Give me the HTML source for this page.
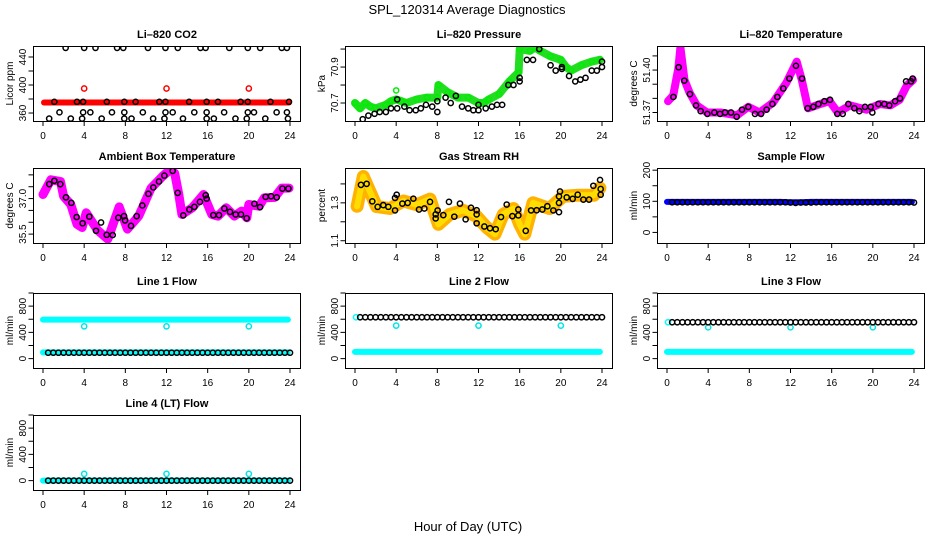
<!DOCTYPE html>
<html><head><meta charset="utf-8"><style>
html,body{margin:0;padding:0;background:#fff;}
svg{display:block;font-family:"Liberation Sans",sans-serif;}
</style></head><body>
<svg id="fig" width="936" height="540" viewBox="0 0 936 540" xmlns="http://www.w3.org/2000/svg">
<rect x="0" y="0" width="936" height="540" fill="#fff"/>
<text x="467" y="14" font-size="13" text-anchor="middle">SPL_120314  Average Diagnostics</text>
<text x="468" y="531" font-size="13" text-anchor="middle">Hour of Day (UTC)</text>
</svg>
<script>
// ---- shared ticks ----
const xTicks = [0,4,8,12,16,20,24];
const hourly = [0,1,2,3,4,5,6,7,8,9,10,11,12,13,14,15,16,17,18,19,20,21,22,23,24];
const halfHours = [0.5,1,1.5,2,2.5,3,3.5,4,4.5,5,5.5,6,6.5,7,7.5,8,8.5,9,9.5,10,10.5,11,11.5,12,12.5,13,13.5,14,14.5,15,15.5,16,16.5,17,17.5,18,18.5,19,19.5,20,20.5,21,21.5,22,22.5,23,23.5,24];
const outlierHours = [4,12,20];

// ---- CO2 ----
const co2BandValues = [375,375,375,375,375,375,375,375,375,375,375,375,375,375,375,375,375,375,375,375,375,375,375,375,375];
const co2OutlierValues = [395,395,395];
const co2TopHours = [2.2,4.0,5.1,7.2,7.8,10.2,11.9,13.1,15.3,15.8,18.1,19.9,21.1,23.2,23.7];
const co2TopValues = [453,453,453,453,453,453,453,453,453,453,453,453,453,453,453];
const co2MidHours = [1.1,3.3,3.9,6.2,7.9,9.0,11.3,11.9,14.2,15.9,17.0,19.2,19.9,22.1,23.9];
const co2MidValues = [376,376,376,376,376,376,376,376,376,376,376,376,376,376,376];
const co2LowHours = [1.6,3.9,4.6,6.7,7.9,9.7,11.9,12.6,14.7,15.9,17.6,19.9,20.5,22.7,23.7];
const co2LowValues = [361,361,361,361,361,361,361,361,361,361,361,361,361,361,361];
const co2BotHours = [0.6,2.7,3.8,5.7,7.9,8.6,10.7,11.8,13.6,15.9,16.6,18.7,19.8,21.6,23.8];
const co2BotValues = [352,352,352,352,352,352,352,352,352,352,352,352,352,352,352];

// ---- Pressure ----
const presBandHours = [0,0.5,1,1.5,2,3,3.5,4,4.5,5,6,7,8,8.1,9,10,11,12,12.5,13,14,15,15.9,16,17,17.5,18,19,20,20.5,21,22,23,23.8];
const presBandValues = [70.70,70.67,70.70,70.68,70.67,70.69,70.71,70.72,70.71,70.70,70.72,70.73,70.73,70.80,70.76,70.73,70.73,70.70,70.70,70.72,70.75,70.82,70.87,71.00,70.99,71.01,70.99,70.96,70.94,70.90,70.88,70.91,70.93,70.94];
const presOutlierHours = [4.0];
const presOutlierValues = [70.77];
const presPtHours = [0.75,1.3,1.9,2.4,3.0,3.5,4.1,4.1,4.8,5.3,5.9,6.4,6.9,7.5,8.0,8.0,8.8,9.3,9.8,10.4,11.0,11.5,12.0,12.0,12.7,13.3,13.8,14.3,14.9,15.4,16.0,16.0,16.7,17.3,17.9,19.0,19.5,20.1,20.1,20.8,21.4,21.9,22.4,23.0,23.5,24.0,24.0];
const presPtValues = [70.61,70.63,70.64,70.65,70.65,70.67,70.67,70.72,70.68,70.66,70.66,70.67,70.69,70.68,70.71,70.65,70.73,70.70,70.74,70.68,70.67,70.66,70.66,70.69,70.67,70.68,70.69,70.69,70.80,70.80,70.84,70.82,70.94,70.94,71.00,70.91,70.88,70.90,70.89,70.85,70.82,70.83,70.84,70.88,70.88,70.90,70.93];

// ---- Li-820 Temperature ----
const tempBandHours = [0.1,0.6,1.1,1.3,1.7,2.2,2.9,3.9,5.2,6.8,7.9,9.0,10.3,11.6,12.6,13.1,13.7,14.9,15.8,16.6,17.8,19.4,20.7,21.7,22.6,23.3,23.9];
const tempBandValues = [51.378,51.382,51.401,51.416,51.393,51.384,51.375,51.370,51.370,51.368,51.374,51.370,51.377,51.391,51.406,51.393,51.373,51.376,51.378,51.370,51.375,51.372,51.376,51.375,51.379,51.389,51.393];
const tempPtHours = [0.62,1.13,1.68,2.23,2.82,3.27,3.92,4.6,5.15,5.64,6.22,6.77,7.29,7.9,8.55,9.14,9.68,10.24,10.72,11.3,11.89,12.53,13.12,13.67,14.22,14.71,15.29,15.84,16.55,17.07,17.62,18.2,18.69,19.24,19.79,19.95,20.54,21.12,21.6,22.16,22.64,23.23,23.71,23.87];
const tempPtValues = [51.381,51.402,51.3925,51.383,51.375,51.371,51.369,51.370,51.369,51.370,51.370,51.367,51.372,51.374,51.369,51.369,51.372,51.376,51.381,51.387,51.394,51.403,51.394,51.373,51.374,51.376,51.378,51.379,51.369,51.369,51.376,51.373,51.371,51.374,51.374,51.370,51.376,51.376,51.375,51.378,51.380,51.392,51.392,51.394];

// ---- Ambient Box Temperature ----
const ambBandHours = [0.0,0.77,1.7,2.0,2.7,3.3,3.8,4.2,5.3,6.3,7.4,8.2,9.3,10.5,11.6,12.3,12.8,13.2,13.5,14.5,15.6,16.4,17.0,17.8,18.6,19.3,19.8,20.0,21.0,21.5,22.5,23.2,23.9];
const ambBandValues = [37.17,37.79,37.72,37.10,36.75,35.92,35.78,36.40,35.67,35.29,36.65,35.71,36.26,37.44,37.93,38.21,38.07,37.17,36.33,36.61,37.17,36.33,36.26,36.61,36.26,36.47,36.19,36.75,36.68,37.03,37.05,37.44,37.44];
const ambPtHours = [0.61,1.1,1.68,2.23,2.75,3.27,3.85,4.5,5.15,5.64,6.19,6.77,7.32,7.87,7.97,8.55,9.1,9.65,10.24,10.72,11.27,11.79,12.6,13.09,13.63,14.22,14.71,15.25,15.81,15.9,16.55,17.1,17.62,18.17,18.72,19.24,19.79,20.54,21.09,21.63,22.16,22.71,23.26,23.84];
const ambPtValues = [37.61,37.75,37.61,37.05,36.82,36.22,35.96,36.24,35.64,35.99,35.47,35.46,36.19,36.26,36.08,35.85,36.26,36.71,37.20,37.47,37.72,37.97,38.17,37.24,36.29,36.54,36.65,36.86,37.14,37.00,36.30,36.30,36.58,36.44,36.33,36.33,36.17,36.78,36.64,37.07,37.10,37.05,37.42,37.42];

// ---- Gas Stream RH ----
const rhBandHours = [0.2,0.81,1.45,2.1,3.4,4.7,6.0,7.3,8.1,9.2,10.5,11.8,12.8,13.6,14.4,15.4,16.0,16.5,17.3,18.9,20.2,21.5,23.2,23.8];
const rhBandValues = [1.282,1.439,1.36,1.28,1.27,1.31,1.29,1.32,1.187,1.239,1.26,1.23,1.17,1.135,1.239,1.27,1.187,1.135,1.30,1.27,1.334,1.34,1.34,1.378];
const rhPtHours = [0.58,1.13,1.68,2.2,2.75,3.24,3.89,3.89,4.05,4.6,5.12,5.67,6.22,6.74,7.29,7.84,7.84,8.03,8.58,9.13,9.65,10.2,10.75,11.27,11.82,11.82,11.82,12.57,13.12,13.67,14.19,14.74,15.29,15.87,15.87,16.59,17.11,17.65,18.2,18.69,19.27,19.82,19.82,19.82,19.92,20.57,21.15,21.64,22.19,22.74,23.16,23.81,23.87,23.87];
const rhPtValues = [1.395,1.40,1.308,1.279,1.288,1.279,1.26,1.326,1.343,1.296,1.30,1.322,1.265,1.27,1.305,1.218,1.239,1.26,1.235,1.305,1.227,1.296,1.213,1.274,1.261,1.239,1.192,1.175,1.166,1.161,1.225,1.291,1.23,1.265,1.234,1.152,1.26,1.261,1.265,1.282,1.26,1.251,1.30,1.334,1.36,1.329,1.321,1.343,1.317,1.317,1.39,1.421,1.373,1.343];

// ---- Sample Flow ----
const sfBandValues = [98,98,98,98,98,98,98,98,98,98,98,98,97,97,98,98,98,98,98,98,98,98,98,98,98];
const sfPtValues = [97,97,97,97,97,97,97,97,97,97,97,97,97,97,97,97,97,97,97,97,97,97,97,96,95,96,96,96,97,97,97,97,97,97,97,97,97,97,97,97,97,97,97,97,97,97,97,96];

// ---- Line flows ----
const l1CyanHigh = [595,595,595,595,595,595,595,595,595,595,595,595,595,595,595,595,595,595,595,595,595,595,595,595,595];
const l1CyanLow = [95,95,95,95,95,95,95,95,95,95,95,95,95,95,95,95,95,95,95,95,95,95,95,95,95];
const l1Outliers = [492,492,492];
const l1Black = [90,90,90,90,90,90,90,90,90,90,90,90,90,90,90,90,90,90,90,90,90,90,90,90,90,90,90,90,90,90,90,90,90,90,90,90,90,90,90,90,90,90,90,90,90,90,90,90];
const l2CyanLow = [103,103,103,103,103,103,103,103,103,103,103,103,103,103,103,103,103,103,103,103,103,103,103,103,103];
const l2CyanStartHours = [0.1];
const l2CyanStart = [631];
const l2Outliers = [503,503,503];
const l2Black = [631,631,631,631,631,631,631,631,631,631,631,631,631,631,631,631,631,631,631,631,631,631,631,631,631,631,631,631,631,631,631,631,631,631,631,631,631,631,631,631,631,631,631,631,631,631,631,631];
const l3CyanLow = [103,103,103,103,103,103,103,103,103,103,103,103,103,103,103,103,103,103,103,103,103,103,103,103,103];
const l3CyanStartHours = [0.1];
const l3CyanStart = [554];
const l3Outliers = [477,477,477];
const l3Black = [554,554,554,554,554,554,554,554,554,554,554,554,554,554,554,554,554,554,554,554,554,554,554,554,554,554,554,554,554,554,554,554,554,554,554,554,554,554,554,554,554,554,554,554,554,554,554,554];
const l4Cyan = [0,0,0,0,0,0,0,0,0,0,0,0,0,0,0,0,0,0,0,0,0,0,0,0,0];
const l4Outliers = [103,103,103];
const l4Black = [0,0,0,0,0,0,0,0,0,0,0,0,0,0,0,0,0,0,0,0,0,0,0,0,0,0,0,0,0,0,0,0,0,0,0,0,0,0,0,0,0,0,0,0,0,0,0,0];

const flowTicks = [0,200,400,600,800,1000];
const flowLabels = ["0","","400","","800",""];

const NS = "http://www.w3.org/2000/svg";
const svg = document.getElementById("fig");
const rowTops = [46,168,293,415];
const BOXH = 75;

function mk(tag, attrs, parent){
  const e = document.createElementNS(NS, tag);
  for (const k in attrs) e.setAttribute(k, attrs[k]);
  (parent || svg).appendChild(e);
  return e;
}

function panel(col,row,title,ylab,ymin,ymax,yt,ytl,slug){
  const x0 = 312*col, top = rowTops[row], bot = top+BOXH;
  const g = mk("g",{});
  
  
  const xs = h => x0 + 43 + h*(247/24);
  const ys = v => bot - (v - ymin)/(ymax - ymin)*BOXH;
  const P = {g, xs, ys, x0, top, bot};
  // title
  const t = mk("text",{x:x0+167,y:top-8,"font-size":11,"font-weight":"bold","text-anchor":"middle"},g);
  t.textContent = title;
  
  
  // box
  const b = mk("rect",{x:x0+33.5,y:top+0.5,width:267,height:BOXH,fill:"none",stroke:"#000","stroke-width":1},g);
  
  
  // x axis
  const xa = mk("g",{},g);
  
  
  mk("line",{x1:xs(0),x2:xs(24),y1:bot+0.5,y2:bot+0.5,stroke:"#000"},xa);
  xTicks.forEach(v=>{
    mk("line",{x1:xs(v),x2:xs(v),y1:bot,y2:bot+5,stroke:"#000"},xa);
    const tl = mk("text",{x:xs(v),y:bot+18,"font-size":10,"text-anchor":"middle"},xa);
    tl.textContent = v;
    
    
  });
  // y axis
  const ya = mk("g",{},g);
  
  
  const ax = x0+33.5;
  yt.forEach((v,i)=>{
    const y = ys(v);
    mk("line",{x1:ax-5,x2:ax,y1:y,y2:y,stroke:"#000"},ya);
    if (ytl[i]) {
      const tl = mk("text",{x:0,y:0,"font-size":10,"text-anchor":"middle",transform:`translate(${x0+26},${y}) rotate(-90)`},ya);
      tl.textContent = ytl[i];
      
      
    }
  });
  const yl = mk("text",{x:0,y:0,"font-size":10,"text-anchor":"middle",transform:`translate(${x0+13},${(top+bot)/2}) rotate(-90)`},g);
  yl.textContent = ylab;
  
  
  // clip
  const cid = "clip-"+slug;
  const cp = mk("clipPath",{id:cid},g);
  mk("rect",{x:x0+34,y:top+1,width:266,height:BOXH-1},cp);
  P.data = mk("g",{"clip-path":`url(#${cid})`},g);
  P.slug = slug;
  return P;
}

function band(P, hrs, vals, color, w, name){
  const grp = mk("g",{},P.data);
  
  
  const pts = hrs.map((h,i)=>P.xs(h).toFixed(1)+","+P.ys(vals[i]).toFixed(1)).join(" ");
  mk("polyline",{points:pts,fill:"none",stroke:color,"stroke-width":w,"stroke-linejoin":"round","stroke-linecap":"round"},grp);
}

function points(P, hrs, vals, color, name, r){
  const grp = mk("g",{},P.data);
  
  
  hrs.forEach((h,i)=>{
    const c = mk("circle",{cx:P.xs(h),cy:P.ys(vals[i]),r:r||2.6,fill:"none",stroke:color,"stroke-width":1.5},grp);
    
    
  });
}

// CO2
let P = panel(0,0,"Li\u2013820 CO2","Licor ppm",348.6,455.7,[360,380,400,420,440],["360","","400","","440"],"co2");
band(P, hourly.map((h,i)=>i===0?0.1:(i===24?23.9:h)), co2BandValues, "#ff0000", 6, "red-band");
points(P, outlierHours, co2OutlierValues, "#ff0000", "red-outliers");
points(P, co2TopHours, co2TopValues, "#000", "black-top");
points(P, co2MidHours, co2MidValues, "#000", "black-mid");
points(P, co2LowHours, co2LowValues, "#000", "black-low");
points(P, co2BotHours, co2BotValues, "#000", "black-bottom");

// Pressure
P = panel(1,0,"Li\u2013820 Pressure","kPa",70.6,71.017,[70.7,70.8,70.9,71.0],["70.7","","70.9",""],"pressure");
band(P, presBandHours, presBandValues, "#22dd22", 8, "green-band");
points(P, presBandHours, presBandValues, "#00ee00", "green-points", 2.6);
points(P, presOutlierHours, presOutlierValues, "#00ee00", "green-outliers");
points(P, presPtHours, presPtValues, "#000", "black-points");

// Li-820 temperature
P = panel(2,0,"Li\u2013820 Temperature","degrees C",51.364,51.417,[51.37,51.38,51.39,51.40,51.41],["51.37","","","51.40",""],"li820-temp");
band(P, tempBandHours, tempBandValues, "#ff00ff", 8, "magenta-band");
points(P, tempPtHours, tempPtValues, "#000", "black-points");

// Ambient
P = panel(0,1,"Ambient Box Temperature","degrees C",35.125,38.29,[35.5,36.0,36.5,37.0,37.5,38.0],["35.5","","","37.0","",""],"ambient-temp");
band(P, ambBandHours, ambBandValues, "#ff00ff", 9, "magenta-band");
points(P, ambPtHours, ambPtValues, "#000", "black-points");

// RH
P = panel(1,1,"Gas Stream RH","percent",1.088,1.484,[1.1,1.2,1.3,1.4],["1.1","","1.3",""],"gas-rh");
band(P, rhBandHours, rhBandValues, "#ffb300", 13, "orange-band");
band(P, rhBandHours, rhBandValues, "#ffdd00", 6, "yellow-band");
points(P, rhPtHours, rhPtValues, "#000", "black-points");

// Sample Flow
P = panel(2,1,"Sample Flow","ml/min",-34,207,[0,50,100,150,200],["0","","100","","200"],"sample-flow");
band(P, hourly.map((h,i)=>i===24?23.8:h), sfBandValues, "#0000ff", 6, "blue-band");
points(P, halfHours, sfPtValues, "#000", "black-points");

// Line 1
P = panel(0,2,"Line 1 Flow","ml/min",-143,1000,flowTicks,flowLabels,"line1-flow");
band(P, hourly.map((h,i)=>i===24?23.8:h), l1CyanHigh, "#00ffff", 6, "cyan-high-band");
band(P, hourly.map((h,i)=>i===24?23.8:h), l1CyanLow, "#00ffff", 6, "cyan-low-band");
points(P, outlierHours, l1Outliers, "#00e5e5", "cyan-outliers");
points(P, halfHours, l1Black, "#000", "black-points");

// Line 2
P = panel(1,2,"Line 2 Flow","ml/min",-143,1000,flowTicks,flowLabels,"line2-flow");
band(P, hourly.map((h,i)=>i===24?23.8:h), l2CyanLow, "#00ffff", 6, "cyan-band");
points(P, l2CyanStartHours, l2CyanStart, "#00ffff", "cyan-start");
points(P, outlierHours, l2Outliers, "#00e5e5", "cyan-outliers");
points(P, halfHours, l2Black, "#000", "black-points");

// Line 3
P = panel(2,2,"Line 3 Flow","ml/min",-143,1000,flowTicks,flowLabels,"line3-flow");
band(P, hourly.map((h,i)=>i===24?23.8:h), l3CyanLow, "#00ffff", 6, "cyan-band");
points(P, l3CyanStartHours, l3CyanStart, "#00ffff", "cyan-start");
points(P, outlierHours, l3Outliers, "#00e5e5", "cyan-outliers");
points(P, halfHours, l3Black, "#000", "black-points");

// Line 4
P = panel(0,3,"Line 4 (LT) Flow","ml/min",-143,1000,flowTicks,flowLabels,"line4-flow");
band(P, hourly.map((h,i)=>i===24?23.8:h), l4Cyan, "#00ffff", 6, "cyan-band");
points(P, outlierHours, l4Outliers, "#00e5e5", "cyan-outliers");
points(P, halfHours, l4Black, "#000", "black-points");
</script>
</body></html>
